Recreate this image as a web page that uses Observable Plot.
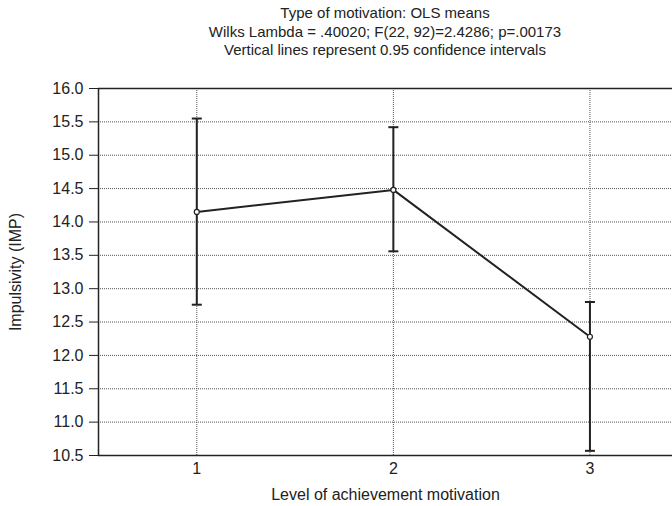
<!DOCTYPE html>
<html>
<head>
<meta charset="utf-8">
<script src="https://cdn.jsdelivr.net/npm/d3@7"></script>
<script src="https://cdn.jsdelivr.net/npm/@observablehq/plot@0.6"></script>
<style>
  html, body { margin: 0; padding: 0; background: #fff; }
  #wrap { width: 672px; font-family: "Liberation Sans", Arial, sans-serif; color: #222; }
  #title { box-sizing: border-box; height: 60px; padding-top: 4px; padding-left: 98px; text-align: center; font-size: 15px; line-height: 18.5px; }
  svg { display: block; }
</style>
</head>
<body>
<div id="wrap">
  <div id="title">
    <div>Type of motivation: OLS means</div>
    <div>Wilks Lambda = .40020; F(22, 92)=2.4286; p=.00173</div>
    <div>Vertical lines represent 0.95 confidence intervals</div>
  </div>
  <div id="chart"></div>
</div>
<script>
// Data
const levels = [1, 2, 3];
const means  = [14.15, 14.48, 12.28];
const upper  = [15.55, 15.42, 12.80];
const lower  = [12.76, 13.56, 10.57];
const yTicks = [10.5, 11.0, 11.5, 12.0, 12.5, 13.0, 13.5, 14.0, 14.5, 15.0, 15.5, 16.0];
const yGrid  = [11.0, 11.5, 12.0, 12.5, 13.0, 13.5, 14.0, 14.5, 15.0, 15.5];
const xTicks = [1, 2, 3];

const data = levels.map((x, i) => ({x, mean: means[i], hi: upper[i], lo: lower[i]}));

const capSymbol = {
  draw(ctx, size) {
    ctx.moveTo(-5, 0);
    ctx.lineTo(5, 0);
  }
};

const ink = "#222";
const chart = Plot.plot({
  width: 672,
  height: 446,
  marginLeft: 98,
  marginRight: 0,
  marginTop: 28,
  marginBottom: 51,
  style: {fontFamily: "'Liberation Sans', Arial, sans-serif", fontSize: "16px", color: ink, background: "white"},
  x: {domain: [0.5, 3.42], ticks: xTicks, tickSize: 0, tickPadding: 7, tickFormat: d => String(d),
      label: "Level of achievement motivation", labelAnchor: "center", labelOffset: 44, labelArrow: false},
  y: {domain: [10.5, 16.0], ticks: yTicks, tickSize: 9, tickPadding: 6, tickFormat: d3.format(".1f"),
      label: "Impulsivity (IMP)", labelAnchor: "center", labelOffset: 89, labelArrow: false},
  marks: [
    Plot.ruleY(yGrid, {stroke: "#555", strokeWidth: 1, strokeDasharray: "1,1"}),
    Plot.ruleX(xTicks, {stroke: "#555", strokeWidth: 1, strokeDasharray: "1,1"}),
    Plot.ruleY([16.0], {stroke: ink, strokeWidth: 1.5}),
    Plot.ruleY([10.5], {stroke: ink, strokeWidth: 1.5}),
    Plot.ruleX([0.5], {stroke: ink, strokeWidth: 1.5}),
    Plot.ruleX(data, {x: "x", y1: "lo", y2: "hi", stroke: ink, strokeWidth: 2}),
    Plot.dot(data, {x: "x", y: "hi", symbol: capSymbol, r: 5, stroke: ink, strokeWidth: 2, fill: "none"}),
    Plot.dot(data, {x: "x", y: "lo", symbol: capSymbol, r: 5, stroke: ink, strokeWidth: 2, fill: "none"}),
    Plot.line(data, {x: "x", y: "mean", stroke: ink, strokeWidth: 2}),
    Plot.dot(data, {x: "x", y: "mean", r: 2.5, fill: "white", stroke: ink, strokeWidth: 1.2})
  ]
});
document.getElementById("chart").appendChild(chart);
</script>
</body>
</html>
